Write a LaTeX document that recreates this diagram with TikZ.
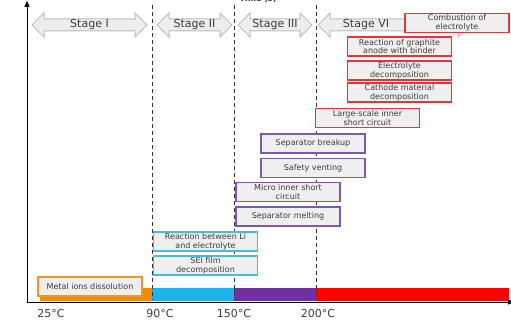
\documentclass[tikz,border=0pt]{standalone}
\usepackage{fontspec}
\setmainfont{DejaVu Sans}
\usetikzlibrary{arrows.meta}
\definecolor{boxfill}{HTML}{EFEFEF}
\definecolor{txt}{HTML}{3C3C3C}
\definecolor{evred}{HTML}{E8323C}
\definecolor{evpurple}{HTML}{7E57B0}
\definecolor{evcyan}{HTML}{45BCDA}
\definecolor{evorange}{HTML}{F7941D}
\definecolor{barorange}{HTML}{F28A00}
\definecolor{barblue}{HTML}{1DB2E8}
\definecolor{barpurple}{HTML}{7030A0}
\definecolor{barred}{HTML}{FF0000}
\definecolor{arrfill}{HTML}{EDEDED}
\definecolor{arrline}{HTML}{BDBDBD}
\tikzset{
  evbox/.style={draw=#1, line width=1.4pt, fill=boxfill, text=txt,
    minimum width=104pt, minimum height=19pt, inner sep=0.3pt,
    align=center, font=\fontsize{8}{8.6}\selectfont},
  stagearr/.style={draw=arrline, fill=arrfill, line width=1pt, line join=miter},
  stagelbl/.style={text=txt, font=\fontsize{11}{13}\selectfont},
  templbl/.style={text=txt, font=\fontsize{11}{13}\selectfont},
  divider/.style={draw=black!80, line width=1pt, dash pattern=on 4pt off 3pt},
  axis/.style={draw=black, line width=1pt},
}
% double-headed stage arrow between x=#1 and x=#2, centred on y=25
\newcommand{\stagearrow}[2]{%
  \path[stagearr] (#1,25) -- (#1+12,13) -- (#1+12,19) -- (#2-12,19) -- (#2-12,13)
    -- (#2,25) -- (#2-12,37) -- (#2-12,31) -- (#1+12,31) -- (#1+12,37) -- cycle;}
\begin{document}
\begin{tikzpicture}[x=1pt,y=-1pt]
\useasboundingbox (0,0) rectangle (511,320);

% temperature bands along the time axis
\fill[barorange] (40,288) rectangle (152,301);
\fill[barblue] (152,288) rectangle (234,301);
\fill[barpurple] (234,288) rectangle (316,301);
\fill[barred] (316,288) rectangle (509,301);

% axes
\coordinate (origin) at (27,302);
\coordinate (ytop) at (27,1);
\coordinate (xend) at (514,302);
\draw[axis,-{Triangle[length=6pt,width=5pt]}] (origin) -- (ytop);
\draw[axis,-{Triangle[length=6pt,width=5pt]}] (origin) -- (xend);
\node[font=\bfseries\fontsize{8}{10}\selectfont, text=txt] (timelbl) at (258,-1) {Time (s)};

% stage dividers
\foreach \x/\n in {152/a,234/b,316/c}{
  \coordinate (top\n) at (\x,5);
  \coordinate (bot\n) at (\x,300);
  \draw[divider] (top\n) -- (bot\n);
}

% stage arrows
\stagearrow{32}{147}
\stagearrow{157}{232}
\stagearrow{238}{312}
\stagearrow{318}{470}
\node[stagelbl] (s1) at (89.5,25) {Stage I};
\node[stagelbl] (s2) at (194.5,25) {Stage II};
\node[stagelbl] (s3) at (275,25) {Stage III};
\node[stagelbl] (s4) at (366,25) {Stage VI};

% events
\node[evbox=evred] (comb) at (457,23) {Combustion of\\electrolyte};
\node[evbox=evred] (graph) at (399.5,46.5) {Reaction of graphite\\anode with binder};
\node[evbox=evred] (elec) at (399.5,70.5) {Electrolyte\\decomposition};
\node[evbox=evred] (cath) at (399.5,92.5) {Cathode material\\decomposition};
\node[evbox=evred] (large) at (367.5,118) {Large-scale inner\\short circuit};
\node[evbox=evpurple] (sepb) at (313,143.5) {Separator breakup};
\node[evbox=evpurple] (vent) at (313,168) {Safety venting};
\node[evbox=evpurple] (micro) at (288,192) {Micro inner short\\circuit};
\node[evbox=evpurple] (sepm) at (288,216.5) {Separator melting};
\node[evbox=evcyan] (li) at (205.5,241.5) {Reaction between Li\\and electrolyte};
\node[evbox=evcyan] (sei) at (205.5,265.5) {SEI film\\decomposition};
\node[evbox=evorange] (metal) at (90,286.5) {Metal ions dissolution};

% temperatures
\node[templbl] (t25) at (51,313) {25°C};
\node[templbl] (t90) at (160,313) {90°C};
\node[templbl] (t150) at (234,313) {150°C};
\node[templbl] (t200) at (318,313) {200°C};
\end{tikzpicture}
\end{document}
